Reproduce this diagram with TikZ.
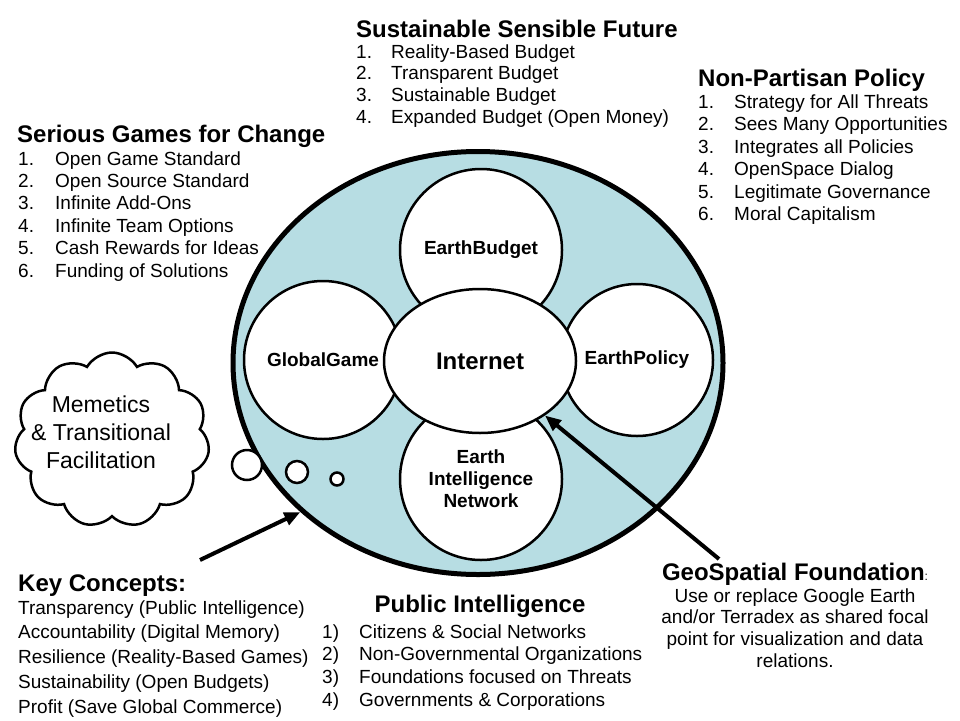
\documentclass[tikz,border=0pt]{standalone}
\usepackage{fontspec}
\setmainfont{Liberation Sans}
\usepackage{tikz}
\usetikzlibrary{shapes.geometric}
\usetikzlibrary{shapes.symbols}
\usetikzlibrary{arrows.meta}
\usepackage{xcolor}
\definecolor{worldblue}{RGB}{183,221,227}

\tikzset{
  listhead/.style={anchor=base west, inner sep=0pt, font=\bfseries\fontsize{24}{28}\selectfont},
  listtext/.style={anchor=base west, inner sep=0pt, font=\fontsize{19}{22}\selectfont},
  hub/.style={circle, draw, line width=2.5pt, fill=white, inner sep=0pt, align=center,
    font=\bfseries\fontsize{19}{22}\selectfont},
  bubble/.style={circle, draw, line width=2.5pt, fill=white, inner sep=0pt},
  bigarrow/.style={line width=4pt, -{Triangle[length=16pt,width=13pt]}}
}

\begin{document}
\begin{tikzpicture}[x=1pt, y=-1pt]
  \useasboundingbox (0,0) rectangle (960,720);

  % Draw the big ellipse with the four circles and the Internet
  \node[ellipse, draw, line width=5pt, fill=worldblue, inner sep=0pt,
    minimum width=490pt, minimum height=423pt] (world) at (478,363) {};
  \node[hub, minimum size=162pt] (budget) at (481,250) {EarthBudget};
  \node[hub, minimum size=158pt] (game) at (323,360) {GlobalGame};
  \node[hub, minimum size=152pt] (policy) at (637,360) {EarthPolicy};
  \node[hub, minimum size=162pt] (ein) at (481,479) {Earth\\Intelligence\\Network};
  \node[ellipse, draw, line width=2.5pt, fill=white, inner sep=0pt,
    minimum width=192pt, minimum height=144pt,
    font=\bfseries\fontsize{24}{28}\selectfont] (internet) at (480,361) {Internet};

  % Thought bubbles and the cloud
  \node[bubble, minimum size=30pt] (bub1) at (247,465) {};
  \node[bubble, minimum size=22pt] (bub2) at (297,472) {};
  \node[bubble, minimum size=13pt] (bub3) at (337,479) {};
  \node[cloud, draw, line width=2.5pt, fill=white, cloud puffs=11, cloud puff arc=120,
    aspect=1.1, minimum width=195pt, minimum height=175pt] (cloud) at (112,440) {};
  \node[align=center, inner sep=0pt, font=\fontsize{23}{28}\selectfont] (memetics)
    at (101,432) {Memetics\\\& Transitional\\Facilitation};

  % Sustainable Sensible Future
  \node[listhead] (ssf) at (356,37) {Sustainable Sensible Future};
  \foreach \txt [count=\i] in {Reality-Based Budget, Transparent Budget,
      Sustainable Budget, Expanded Budget (Open Money)} {
    \node[listtext] (ssf-n\i) at (356,{58+21.7*(\i-1)}) {\i.};
    \node[listtext] (ssf-\i) at (391,{58+21.7*(\i-1)}) {\txt};
  }

  % Non-Partisan Policy
  \node[listhead] (npp) at (698,86) {Non-Partisan Policy};
  \foreach \txt [count=\i] in {Strategy for All Threats, Sees Many Opportunities,
      Integrates all Policies, OpenSpace Dialog, Legitimate Governance, Moral Capitalism} {
    \node[listtext] (npp-n\i) at (698,{108+22.5*(\i-1)}) {\i.};
    \node[listtext] (npp-\i) at (734,{108+22.5*(\i-1)}) {\txt};
  }

  % Serious Games for Change
  \node[listhead] (sgc) at (17,142) {Serious Games for Change};
  \foreach \txt [count=\i] in {Open Game Standard, Open Source Standard, Infinite Add-Ons,
      Infinite Team Options, Cash Rewards for Ideas, Funding of Solutions} {
    \node[listtext] (sgc-n\i) at (18,{165+22.4*(\i-1)}) {\i.};
    \node[listtext] (sgc-\i) at (55,{165+22.4*(\i-1)}) {\txt};
  }

  % Key Concepts
  \node[listhead] (kc) at (18,591) {Key Concepts:};
  \foreach \txt [count=\i] in {Transparency (Public Intelligence),
      Accountability (Digital Memory), Resilience (Reality-Based Games),
      Sustainability (Open Budgets), Profit (Save Global Commerce)} {
    \node[listtext] (kc-\i) at (18,{614+24.8*(\i-1)}) {\txt};
  }

  % Public Intelligence
  \node[listhead, anchor=base] (pi) at (480,612) {Public Intelligence};
  \foreach \txt [count=\i] in {Citizens \& Social Networks, Non-Governmental Organizations,
      Foundations focused on Threats, Governments \& Corporations} {
    \node[listtext] (pi-n\i) at (322,{638+22.7*(\i-1)}) {\i)};
    \node[listtext] (pi-\i) at (359,{638+22.7*(\i-1)}) {\txt};
  }

  % GeoSpatial Foundation
  \node[anchor=base, inner sep=0pt] (geo) at (795,580)
    {{\bfseries\fontsize{24}{28}\selectfont GeoSpatial Foundation}{\fontsize{12}{12}\selectfont:}};
  \foreach \txt [count=\i] in {Use or replace Google Earth, and/or Terradex as shared focal,
      point for visualization and data, relations.} {
    \node[listtext, anchor=base] (geo-\i) at (795,{602+21.7*(\i-1)}) {\txt};
  }

  % Arrows pointing into the picture
  \coordinate (kc-tail) at (200,560);
  \coordinate (geo-tail) at (719,559);
  \draw[bigarrow] (kc-tail) -- (world.220);
  \draw[bigarrow] (geo-tail) -- (internet.320);
\end{tikzpicture}
\end{document}
